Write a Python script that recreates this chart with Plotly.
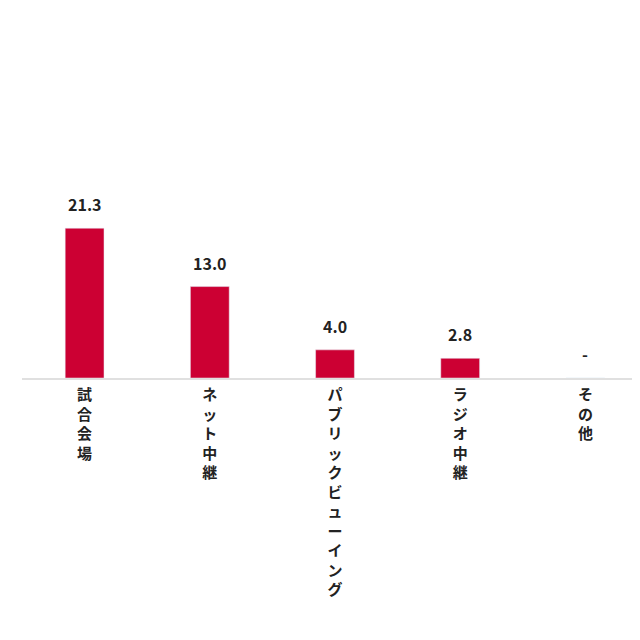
import plotly.graph_objects as go

categories = ["試合会場", "ネット中継", "パブリックビューイング", "ラジオ中継", "その他"]
values = [21.3, 13.0, 4.0, 2.8, 0]
labels = ["21.3", "13.0", "4.0", "2.8", "-"]

ticktext = ["<b>" + "<br>".join(list(c)) + "</b>" for c in categories]

fig = go.Figure(go.Bar(
    x=categories, y=values, width=0.31,
    marker=dict(color="#cc0033"),
))
for c, v, t in zip(categories, values, labels):
    fig.add_annotation(x=c, y=v, text="<b>" + t + "</b>", showarrow=False,
                       yanchor="bottom", yshift=10,
                       font=dict(size=16, color="#222", family="Noto Sans CJK JP"))
fig.update_layout(
    width=640, height=640, plot_bgcolor="white", paper_bgcolor="white",
    margin=dict(l=14, r=0, t=159, b=270), showlegend=False,
    font=dict(family="Noto Sans CJK JP", color="#222"),
    xaxis=dict(tickmode="array", tickvals=categories, ticktext=ticktext,
               tickfont=dict(size=15, family="Noto Sans CJK JP"),
               showline=True, linecolor="#e0e0e0", linewidth=2, ticks="", ticklabelstandoff=2),
    yaxis=dict(range=[0, 30], visible=False),
)
fig.write_html("out.html")
